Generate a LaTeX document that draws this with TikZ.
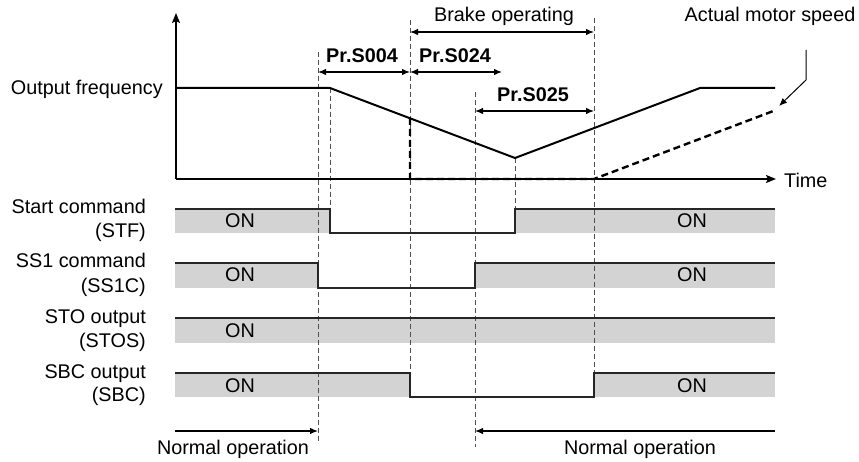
\documentclass[tikz,border=0pt]{standalone}
\usepackage{fontspec}
\setmainfont{Liberation Sans}
\usetikzlibrary{arrows.meta}
\definecolor{bandgray}{RGB}{211,211,211}
\definecolor{dashgray}{RGB}{80,80,80}
\begin{document}
\begin{tikzpicture}[x=1pt,y=-1pt,
  txt/.style={font=\fontsize{19.8}{23.5}\selectfont, inner sep=0pt, anchor=base},
  lbl/.style={txt, anchor=base east},
  boldtxt/.style={txt, font=\fontsize{19.8}{23.5}\selectfont\bfseries},
  vdash/.style={draw=dashgray, line width=0.9pt, dash pattern=on 5pt off 3pt},
  sig/.style={draw=black!85, line width=1.2pt},
  band/.style={fill=bandgray, draw=none},
  axis/.style={line width=1.8pt, -{Stealth[length=10pt,width=8pt,inset=2pt]}},
  freq/.style={line width=2pt, line join=miter},
  motor/.style={line width=2.4pt, dash pattern=on 7pt off 4pt},
  darr/.style={line width=1.2pt, {Latex[length=8pt,width=6.5pt]}-{Latex[length=8pt,width=6.5pt]}},
  sarr/.style={line width=1.2pt, -{Latex[length=8pt,width=6.5pt]}},
  leader/.style={line width=1pt, -{Latex[length=8pt,width=6.5pt]}}
]
\useasboundingbox (0,0) rectangle (859,462);

% ---- gray ON bands ----
\fill[band] (175,209) rectangle (330,233);
\fill[band] (515,209) rectangle (775,233);
\fill[band] (175,263) rectangle (318,288);
\fill[band] (475,263) rectangle (775,288);
\fill[band] (175,318) rectangle (775,343);
\fill[band] (175,373) rectangle (410,397);
\fill[band] (594,373) rectangle (775,397);

% ---- vertical dashed time markers ----
\draw[vdash] (318,52) -- (318,442);
\draw[vdash] (330,88) -- (330,209);
\draw[vdash] (410,20) -- (410,373);
\draw[vdash] (475,92) -- (475,447);
\draw[vdash] (515,158) -- (515,209);
\draw[vdash] (594,18) -- (594,373);

% ---- axes ----
\coordinate (O) at (176,179);
\coordinate (ytop) at (176,13);
\coordinate (xend) at (776,179);
\draw[axis] (O) -- (ytop);
\draw[axis] (O) -- (xend);

% ---- output frequency ----
\draw[freq] (176,88) -- (330,88) -- (515,158) -- (700,88) -- (775,88);

% ---- actual motor speed ----
\coordinate (mend) at (776,110);
\draw[motor] (410,118) -- (410,179) -- (594,179) -- (mend);

% ---- signal traces ----
\draw[sig] (175,209) -- (330,209) -- (330,233) -- (515,233) -- (515,209) -- (775,209);
\draw[sig] (175,263) -- (318,263) -- (318,288) -- (475,288) -- (475,263) -- (775,263);
\draw[sig] (175,318) -- (775,318);
\draw[sig] (175,373) -- (410,373) -- (410,397) -- (594,397) -- (594,373) -- (775,373);

% ---- interval arrows ----
\coordinate (b1) at (410,32);  \coordinate (b2) at (594,32);
\coordinate (p4a) at (318,72); \coordinate (p4b) at (410,72);
\coordinate (p24b) at (502,72);
\coordinate (p25a) at (475,111); \coordinate (p25b) at (594,111);
\draw[darr] (b1) -- (b2);
\draw[darr] (p4a) -- (p4b);
\draw[darr] (p4b) -- (p24b);
\draw[darr] (p25a) -- (p25b);

\coordinate (n1a) at (175,431); \coordinate (n1b) at (318,431);
\coordinate (n2a) at (775,431); \coordinate (n2b) at (475,431);
\draw[sarr] (n1a) -- (n1b);
\draw[sarr] (n2a) -- (n2b);

% ---- texts ----
\node[txt] (brake) at (504,22) {Brake operating};
\node[boldtxt] (s004) at (362,63) {Pr.S004};
\node[boldtxt] (s024) at (455,63) {Pr.S024};
\node[boldtxt] (s025) at (533,102) {Pr.S025};
\node[txt] (ams) at (770,22) {Actual motor speed};
\node[txt, anchor=base west] (time) at (784,188) {Time};
\node[lbl] (of) at (163,95) {Output frequency};

\coordinate (l1) at (806,50);
\coordinate (l2) at (806,80);
\draw[leader] (l1) -- (l2) -- (779,106);

\node[lbl] (stf1) at (146,214) {Start command};
\node[lbl] (stf2) at (146,238) {(STF)};
\node[lbl] (ss1) at (146,268) {SS1 command};
\node[lbl] (ss2) at (146,292) {(SS1C)};
\node[lbl] (sto1) at (146,323) {STO output};
\node[lbl] (sto2) at (146,347) {(STOS)};
\node[lbl] (sbc1) at (146,378) {SBC output};
\node[lbl] (sbc2) at (146,401) {(SBC)};

\node[txt] (on1) at (240,228) {ON};
\node[txt] (on2) at (692,228) {ON};
\node[txt] (on3) at (240,282) {ON};
\node[txt] (on4) at (692,282) {ON};
\node[txt] (on5) at (240,337) {ON};
\node[txt] (on6) at (240,392) {ON};
\node[txt] (on7) at (692,392) {ON};

\node[txt] (norm1) at (233,454) {Normal operation};
\node[txt] (norm2) at (640,454) {Normal operation};
\end{tikzpicture}
\end{document}
